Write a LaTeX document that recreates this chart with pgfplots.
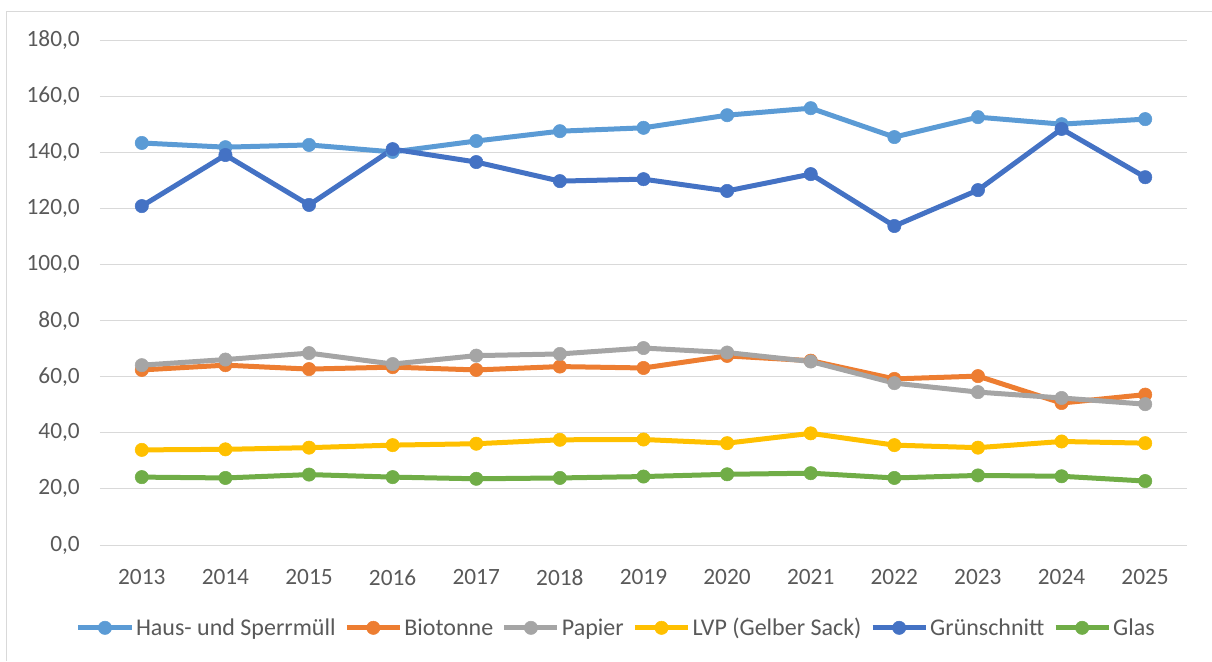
\documentclass[border=0pt]{standalone}
\usepackage{pgfplots}
\pgfplotsset{compat=1.18}
\usepackage{fontspec}
\setmainfont{Carlito}
\definecolor{txt}{HTML}{595959}
\definecolor{gridc}{HTML}{D9D9D9}
\definecolor{cHaus}{HTML}{5B9BD5}
\definecolor{cBio}{HTML}{ED7D31}
\definecolor{cPap}{HTML}{A5A5A5}
\definecolor{cLVP}{HTML}{FFC000}
\definecolor{cGruen}{HTML}{4472C4}
\definecolor{cGlas}{HTML}{70AD47}
\begin{document}
\begin{tikzpicture}
\useasboundingbox (-75pt,-87pt) rectangle (834pt,408.75pt);
\draw[gridc, line width=0.75pt] (-69.75pt,-87pt) -- (-69.75pt,399.75pt) -- (834pt,399.75pt);
\begin{axis}[
  at={(0pt,0pt)}, anchor=south west,
  scale only axis, width=815.25pt, height=378.75pt,
  xmin=2012.5, xmax=2025.5, ymin=0, ymax=180,
  xtick={2013,...,2025},
  xticklabels={2013,2014,2015,2016,2017,2018,2019,2020,2021,2022,2023,2024,2025},
  ytick={0,20,...,180},
  yticklabel={\pgfmathprintnumber[fixed,fixed zerofill,precision=1,use comma]{\tick}},
  /pgf/number format/assume math mode=true,
  ymajorgrids, major grid style={gridc, line width=0.75pt},
  axis line style={draw=none}, tick style={draw=none},
  font=\fontsize{17.5}{20}\selectfont,
  tick label style={text=txt},
  yticklabel style={inner sep=0pt, xshift=-15pt},
  xticklabel style={inner sep=0pt, anchor=north, yshift=-18pt},
  every axis plot/.append style={line width=3.75pt, mark=*, mark size=5pt, mark options={solid, line width=0.4pt}},
  legend columns=6,
  legend style={draw=none, fill=none, at={(0.475,-0.164)}, anchor=center,
    font=\fontsize{18}{21}\selectfont, text=txt,
    /tikz/every even column/.append style={column sep=5pt},
    nodes={inner sep=1.5pt}},
  legend image code/.code={\draw[mark repeat=2,mark phase=2] plot coordinates {(0cm,0cm)(0.7cm,0cm)(1.4cm,0cm)};},
]
\addplot[color=cHaus] coordinates {(2013,143.3)(2014,141.8)(2015,142.6)(2016,140.1)(2017,144.0)(2018,147.5)(2019,148.7)(2020,153.2)(2021,155.7)(2022,145.4)(2023,152.5)(2024,150.0)(2025,151.8)};
\addlegendentry{Haus- und Sperrmüll}
\addplot[color=cBio] coordinates {(2013,62.4)(2014,64.1)(2015,62.7)(2016,63.4)(2017,62.4)(2018,63.6)(2019,63.1)(2020,67.4)(2021,65.7)(2022,59.2)(2023,60.2)(2024,50.6)(2025,53.6)};
\addlegendentry{Biotonne}
\addplot[color=cPap] coordinates {(2013,64.1)(2014,66.1)(2015,68.4)(2016,64.5)(2017,67.5)(2018,68.1)(2019,70.2)(2020,68.6)(2021,65.4)(2022,57.7)(2023,54.5)(2024,52.4)(2025,50.2)};
\addlegendentry{Papier}
\addplot[color=cLVP] coordinates {(2013,33.9)(2014,34.1)(2015,34.7)(2016,35.6)(2017,36.1)(2018,37.5)(2019,37.6)(2020,36.3)(2021,39.8)(2022,35.6)(2023,34.7)(2024,36.9)(2025,36.3)};
\addlegendentry{LVP (Gelber Sack)}
\addplot[color=cGruen] coordinates {(2013,120.8)(2014,139.0)(2015,121.2)(2016,141.1)(2017,136.5)(2018,129.7)(2019,130.4)(2020,126.2)(2021,132.2)(2022,113.7)(2023,126.5)(2024,148.3)(2025,131.1)};
\addlegendentry{Grünschnitt}
\addplot[color=cGlas] coordinates {(2013,24.2)(2014,23.9)(2015,25.1)(2016,24.2)(2017,23.6)(2018,23.9)(2019,24.4)(2020,25.2)(2021,25.6)(2022,23.9)(2023,24.8)(2024,24.5)(2025,22.8)};
\addlegendentry{Glas}
\end{axis}
\end{tikzpicture}
\end{document}
